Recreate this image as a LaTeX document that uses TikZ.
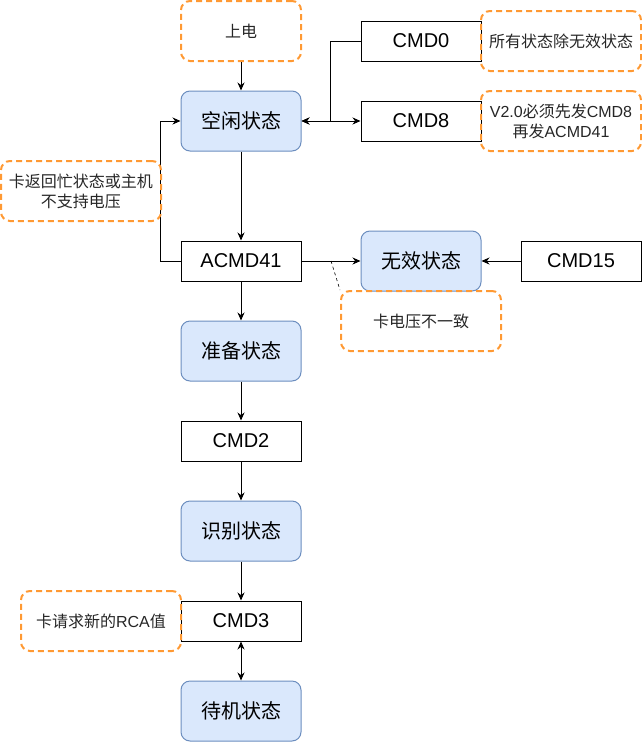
\documentclass[tikz,border=0pt]{standalone}
\usepackage{fontspec}
\setmainfont{Liberation Sans}
\newfontfamily\zh{Noto Sans CJK SC}
\usetikzlibrary{arrows.meta,positioning}
\definecolor{statefill}{HTML}{DAE8FC}
\definecolor{statedraw}{HTML}{6C8EBF}
\definecolor{noteorange}{HTML}{FF9933}

\begin{document}
\begin{tikzpicture}[x=1pt,y=-1pt,>={Stealth[length=8pt,width=7pt]},line width=1pt,node distance=90pt]
  \tikzstyle{statebox}=[draw=statedraw,fill=statefill,rounded corners=9pt,minimum width=120pt,minimum height=60pt,inner sep=0pt,font=\fontsize{20}{24}\selectfont]
  \tikzstyle{cmdbox}=[draw=black,fill=white,minimum width=120pt,minimum height=40pt,inner sep=0pt,font=\fontsize{20}{24}\selectfont]
  \tikzstyle{notebox}=[draw=noteorange,line width=2pt,dash pattern=on 6pt off 4pt,rounded corners=9pt,minimum width=160pt,minimum height=60pt,inner sep=0pt,align=center,text=black!85,font=\fontsize{16}{20}\selectfont]

  \useasboundingbox (0,0) rectangle (642,742);

  \node[notebox,minimum width=120pt] (poweron) at (241,31) {\zh 上电};
  \node[statebox] (idle)    [below of=poweron] {\zh 空闲状态};
  \node[cmdbox]   (cmd8)    [right of=idle, node distance=180pt] {CMD8};
  \node[cmdbox]   (cmd0)    [above of=cmd8, node distance=80pt] {CMD0};
  \node[cmdbox]   (acmd41)  [below of=idle, node distance=140pt] {ACMD41};
  \node[statebox] (invalid) [right of=acmd41, node distance=180pt] {\zh 无效状态};
  \node[cmdbox]   (cmd15)   [right of=invalid, node distance=160pt] {CMD15};
  \node[statebox] (ready)   [below of=acmd41] {\zh 准备状态};
  \node[cmdbox]   (cmd2)    [below of=ready] {CMD2};
  \node[statebox] (ident)   [below of=cmd2] {\zh 识别状态};
  \node[cmdbox]   (cmd3)    [below of=ident] {CMD3};
  \node[statebox] (standby) [below of=cmd3] {\zh 待机状态};

  \path[->]
  (poweron) edge (idle)
  (idle) edge (acmd41)
  (acmd41) edge (ready)
  edge node[coordinate] (voltlink) {} (invalid)
  (cmd15) edge (invalid)
  (ready) edge (cmd2)
  (cmd2) edge (ident)
  (ident) edge (cmd3);
  \path[<->]
  (idle) edge (cmd8)
  (cmd3) edge (standby);
  \draw[->] (cmd0.west) -- ++(-30,0) |- (idle.east);
  \draw[->] (acmd41.west) -- ++(-20,0) |- (idle.west);

  % notes
  \node[notebox] (noteall)  [right of=cmd0, node distance=140pt] {{\zh 所有状态除无效状态}};
  \node[notebox] (notev2)   [right of=cmd8, node distance=140pt] {V2.0{\zh 必须先发}CMD8\\{\zh 再发}ACMD41};
  \node[notebox] (notebusy) [left of=acmd41, node distance=160pt, yshift=70pt] {{\zh 卡返回忙状态或主机}\\{\zh 不支持电压}};
  \node[notebox] (notevolt) [below of=invalid, node distance=60pt] {{\zh 卡电压不一致}};
  \node[notebox] (noterca)  [left of=cmd3, node distance=140pt] {{\zh 卡请求新的}RCA{\zh 值}};
  \draw[dashed,line width=0.6pt] (voltlink) -- (notevolt.north west);
\end{tikzpicture}
\end{document}
